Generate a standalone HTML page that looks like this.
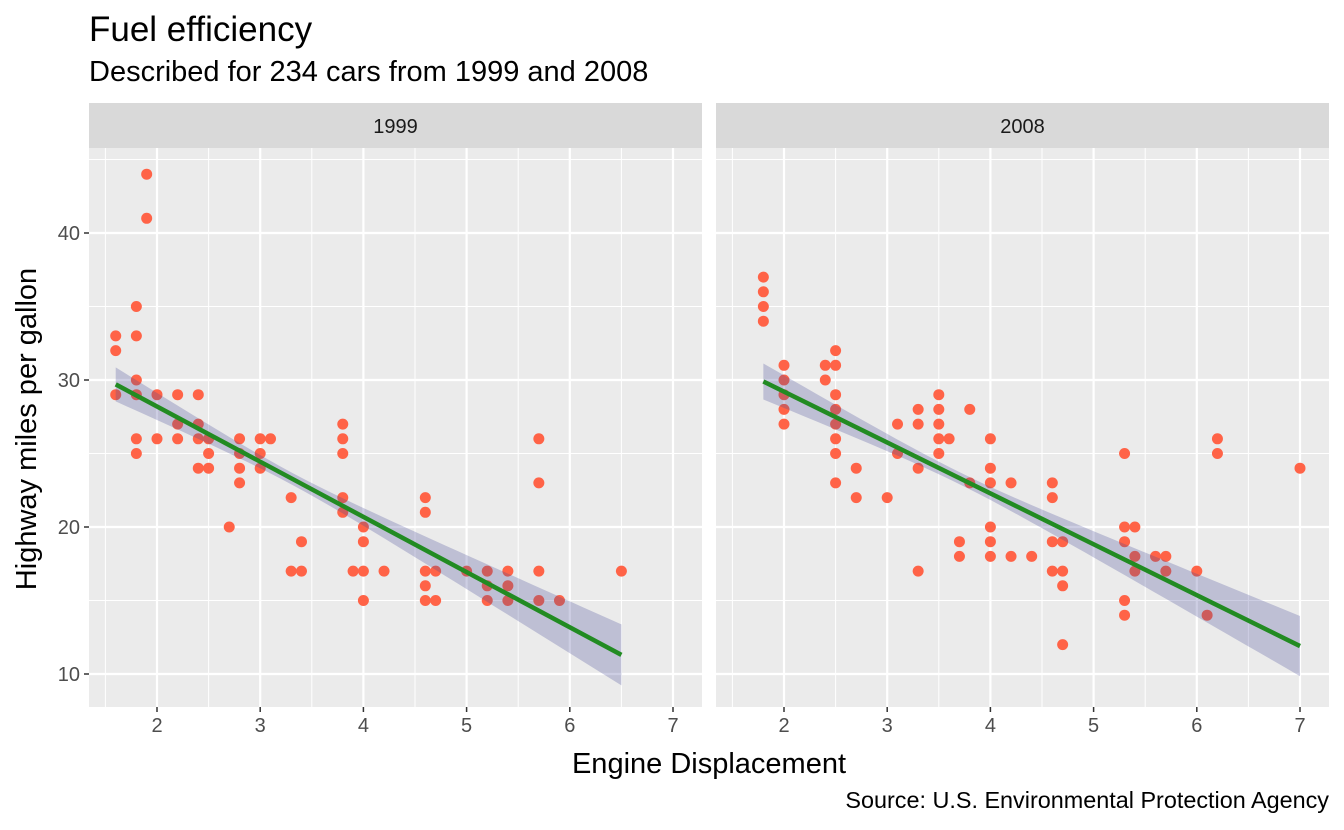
<!DOCTYPE html>
<html><head><meta charset="utf-8"><style>body{margin:0;background:#fff}svg{display:block}text{font-family:"Liberation Sans",Arial,sans-serif}</style></head>
<body>
<svg id="s" width="1344" height="830" xmlns="http://www.w3.org/2000/svg">
<rect width="1344" height="830" fill="#fff"/>
<text x="89" y="41" font-size="35" fill="#000">Fuel efficiency</text>
<text x="89" y="81" font-size="29" fill="#000">Described for 234 cars from 1999 and 2008</text>
<g id="panels"></g>
<text x="709" y="773" font-size="29" text-anchor="middle" fill="#000">Engine Displacement</text>
<text x="36" y="429" font-size="29" text-anchor="middle" fill="#000" transform="rotate(-90 36 429)">Highway miles per gallon</text>
<text x="1329" y="808" font-size="23.4" text-anchor="end" fill="#000">Source: U.S. Environmental Protection Agency</text>
</svg>
<script>
const NS="http://www.w3.org/2000/svg";
const g=document.getElementById('panels');
function el(t,a,p){const e=document.createElementNS(NS,t);for(const k in a)e.setAttribute(k,a[k]);(p||g).appendChild(e);return e;}
const d99={1.6:[33,32,29],1.8:[35,33,30,29,26,25],1.9:[44,41],2.0:[29,26],2.2:[29,27,26],2.4:[29,27,26,24],2.5:[26,25,24],2.7:[20],2.8:[26,25,24,23],3.0:[26,25,24],3.1:[26],3.3:[22,17],3.4:[19,17],3.8:[27,26,25,22,21],3.9:[17],4.0:[20,19,17,15],4.2:[17],4.6:[22,21,17,16,15],4.7:[17,15],5.0:[17],5.2:[17,16,15],5.4:[17,16,15],5.7:[26,23,17,15],5.9:[15],6.5:[17]};
const d08={1.8:[37,36,35,34],2.0:[31,30,29,28,27],2.4:[31,30],2.5:[32,31,29,28,27,26,25,23],2.7:[24,22],3.0:[22],3.1:[27,25],3.3:[28,27,24,17],3.5:[29,28,27,26,25],3.6:[26],3.7:[19,18],3.8:[28,23],4.0:[26,24,23,20,19,18],4.2:[23,18],4.4:[18],4.6:[23,22,19,17],4.7:[19,17,16,12],5.3:[25,20,19,15,14],5.4:[20,18,17],5.6:[18],5.7:[18,17],6.0:[17],6.1:[14],6.2:[26,25],7.0:[24]};
const py=y=>674-(y-10)*14.7;
const panels=[{x0:89,label:'1999',d:d99,l:[1.6,29.7,6.5,11.3],m:3.3,k:87.5},{x0:716,label:'2008',d:d08,l:[1.8,29.9,7.0,11.9],m:3.7,k:80}];
panels.forEach((P,i)=>{
 const px=x=>P.x0+68+(x-2)*103.2;
 el('rect',{x:P.x0,y:103,width:613,height:45,fill:'#D9D9D9'});
 el('text',{x:P.x0+306.5,y:133,'font-size':20,'text-anchor':'middle',fill:'#1a1a1a'}).textContent=P.label;
 el('rect',{x:P.x0,y:148,width:613,height:559,fill:'#EBEBEB'});
 for(let y=15;y<=45;y+=10)el('line',{x1:P.x0,x2:P.x0+613,y1:py(y),y2:py(y),stroke:'#fff','stroke-width':1});
 for(let x=1.5;x<=7;x+=1)el('line',{y1:148,y2:707,x1:px(x),x2:px(x),stroke:'#fff','stroke-width':1});
 for(let y=10;y<=40;y+=10)el('line',{x1:P.x0,x2:P.x0+613,y1:py(y),y2:py(y),stroke:'#fff','stroke-width':2.2});
 for(let x=2;x<=7;x++){el('line',{y1:148,y2:707,x1:px(x),x2:px(x),stroke:'#fff','stroke-width':2.2});
  el('line',{y1:707,y2:712,x1:px(x),x2:px(x),stroke:'#333','stroke-width':1.5});
  el('text',{x:px(x),y:732,'font-size':20,'text-anchor':'middle',fill:'#4d4d4d'}).textContent=x;}
 if(i==0){for(let y=10;y<=40;y+=10){el('line',{x1:84,x2:89,y1:py(y),y2:py(y),stroke:'#333','stroke-width':1.5});
  el('text',{x:80,y:py(y)+7,'font-size':20,'text-anchor':'end',fill:'#4d4d4d'}).textContent=y;}}
 for(const k in P.d)P.d[k].forEach(v=>el('circle',{cx:px(+k),cy:py(v),r:5.5,fill:'#FF6347'}));
 const [xa,ya,xb,yb]=P.l;const f=x=>ya+(yb-ya)*(x-xa)/(xb-xa);
 const up=[],lo=[];
 for(let j=0;j<=40;j++){const x=xa+(xb-xa)*j/40;const h=Math.sqrt(36+P.k*(x-P.m)**2);const c=py(f(x));up.push(px(x)+','+(c-h));lo.unshift(px(x)+','+(c+h));}
 el('polygon',{points:up.concat(lo).join(' '),fill:'rgba(70,75,150,0.27)'});
 el('line',{x1:px(xa),y1:py(ya),x2:px(xb),y2:py(yb),stroke:'#228B22','stroke-width':4.5});
});
</script>
</body></html>
